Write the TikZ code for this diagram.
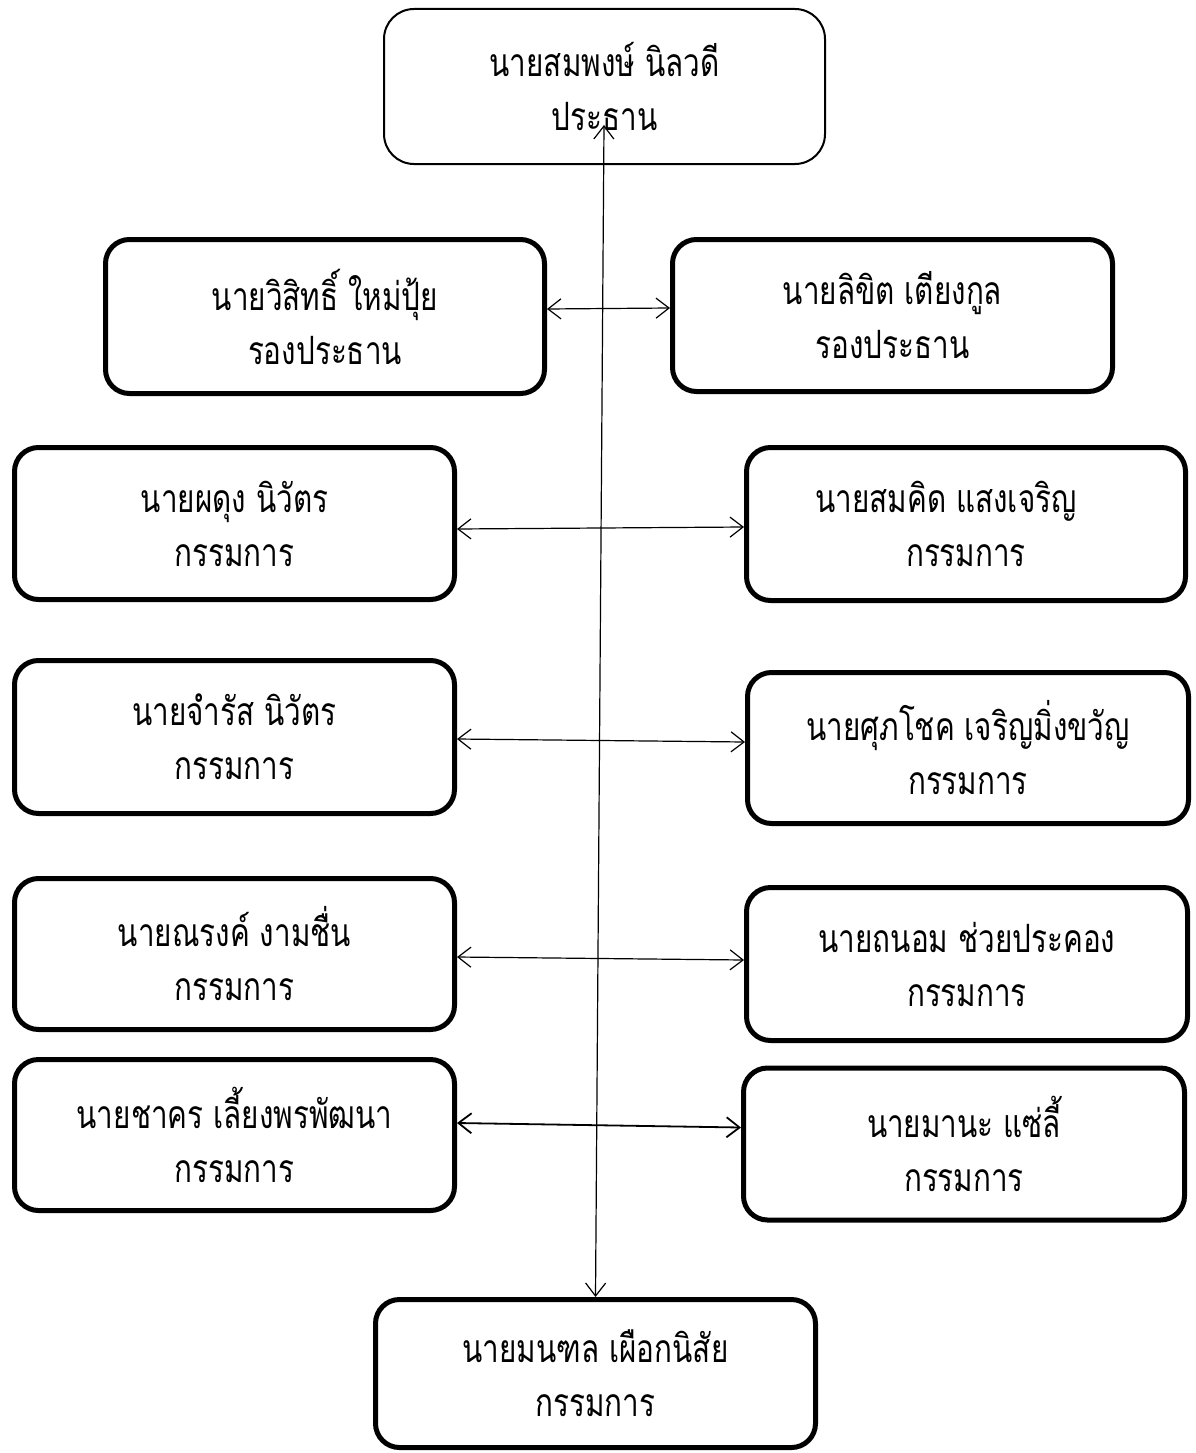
\documentclass[tikz,border=0pt]{standalone}
\usepackage{fontspec}
\newfontfamily\thaifont[Script=Thai, FakeStretch=0.76]{Loma}
\usetikzlibrary{arrows.meta}
\tikzset{
  box/.style={draw=black, line width=5pt, rounded corners=24pt, align=center,
    font=\thaifont\fontsize{39}{54}\selectfont, inner sep=0pt},
  chairbox/.style={box, line width=2pt, rounded corners=30pt},
  link/.style={line width=1.2pt, {Straight Barb[length=13pt,width=20pt]}-{Straight Barb[length=13pt,width=20pt]}}
}
\begin{document}
\begin{tikzpicture}[x=1pt,y=-1pt]
\useasboundingbox[fill=white] (0,0) rectangle (1196,1453);
\node[chairbox, minimum width=441pt, minimum height=155pt] (chair) at (604.5,86.5) {นายสมพงษ์ นิลวดี\\ประธาน};
\node[box, minimum width=439pt, minimum height=154pt] (vpl) at (325,316.5) {นายวิสิทธิ์ ใหม่ปุ้ย\\รองประธาน};
\node[box, minimum width=440pt, minimum height=152pt] (vpr) at (892.5,315.5) {นายลิขิต เตียงกูล\\รองประธาน};
\node[box, minimum width=440pt, minimum height=152pt] (c2l) at (234.5,523.5) {นายผดุง นิวัตร\\กรรมการ};
\node[box, minimum width=439pt, minimum height=153pt] (c2r) at (966,524) {นายสมคิด แสงเจริญ\hspace*{40pt}\\กรรมการ};
\node[box, minimum width=440pt, minimum height=153pt] (c3l) at (234.5,737) {นายจำรัส นิวัตร\\กรรมการ};
\node[box, minimum width=441pt, minimum height=151pt] (c3r) at (968,748) {นายศุภโชค เจริญมิ่งขวัญ\\กรรมการ};
\node[box, minimum width=440pt, minimum height=151pt] (c4l) at (234.5,954) {นายณรงค์ งามชื่น\\กรรมการ};
\node[box, minimum width=441pt, minimum height=153pt] (c4r) at (967,964) {นายถนอม ช่วยประคอง\\กรรมการ};
\node[box, minimum width=440pt, minimum height=151pt] (c5l) at (234.5,1135) {นายชาคร เลี้ยงพรพัฒนา\\กรรมการ};
\node[box, minimum width=441pt, minimum height=152pt] (c5r) at (964,1144) {นายมานะ แซ่ลี้\\กรรมการ};
\node[box, minimum width=440pt, minimum height=148pt] (bot) at (595.5,1373.5) {นายมนฑล เผือกนิสัย\\กรรมการ};
\coordinate (vtop) at (604,125);
\draw[link] (vtop) -- (bot.north);
\draw[link] ([yshift=7.5pt]vpl.east) -- ([yshift=7.5pt]vpr.west);
\draw[link] ([yshift=-5.5pt]c2l.east) -- ([yshift=-3pt]c2r.west);
\draw[link] ([yshift=-2pt]c3l.east) -- ([yshift=6pt]c3r.west);
\draw[link] ([yshift=-3pt]c4l.east) -- ([yshift=4pt]c4r.west);
\draw[link, line width=1.8pt] ([yshift=12pt]c5l.east) -- ([yshift=16.5pt]c5r.west);
\end{tikzpicture}
\end{document}
